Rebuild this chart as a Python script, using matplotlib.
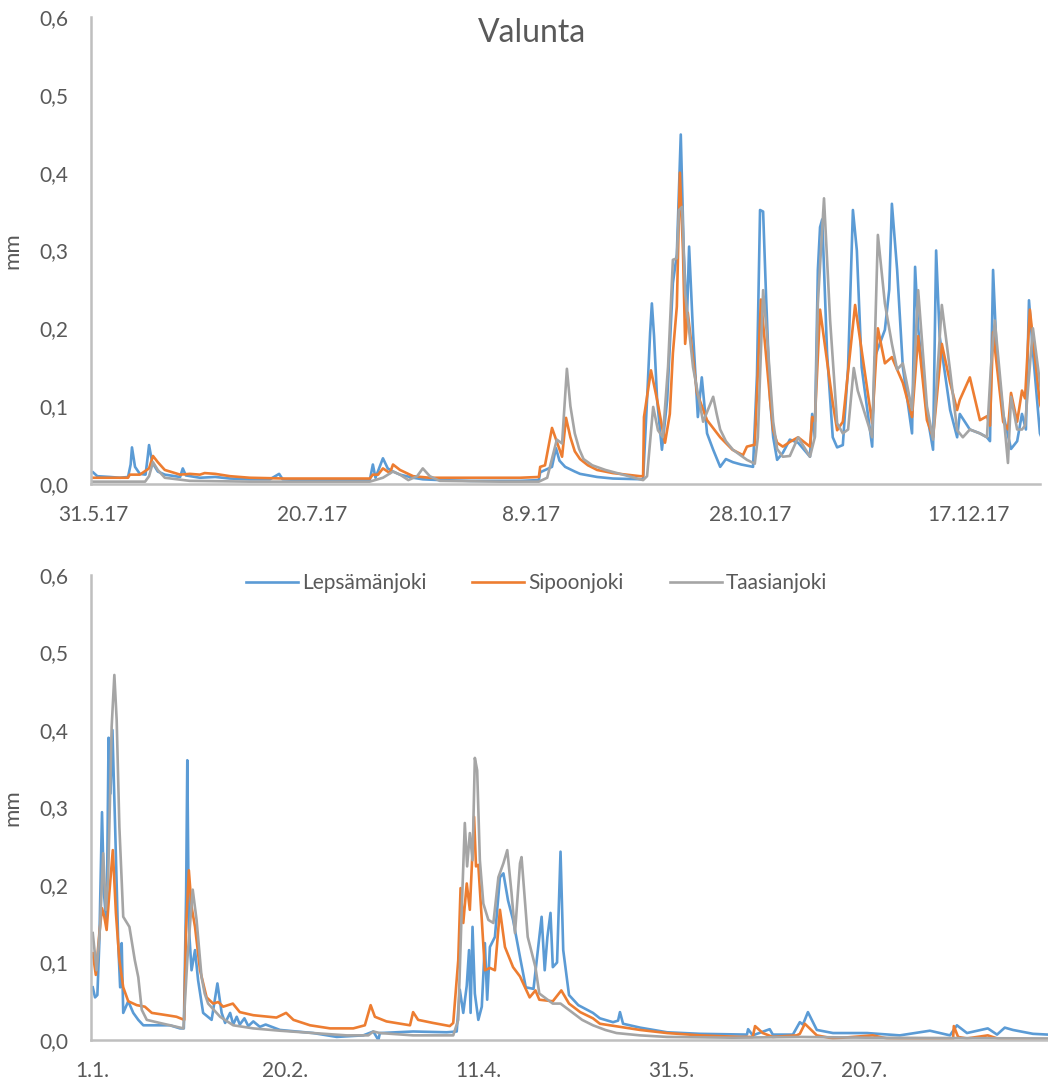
import matplotlib.pyplot as plt

# Valunta (mm), päivät jakson alusta: yläkuva 31.5.2017 alkaen, alakuva 1.1.2018 alkaen
series = ['Lepsämänjoki', 'Sipoonjoki', 'Taasianjoki']
colors = ['#5B9BD5', '#ED7D31', '#A5A5A5']

ticks17 = [0, 50, 100, 150, 200]
labels17 = ['31.5.17', '20.7.17', '8.9.17', '28.10.17', '17.12.17']
ticks18 = [0, 50, 100, 150, 200]
labels18 = ['1.1.', '20.2.', '11.4.', '31.5.', '20.7.']

# --- 2017 ---
lep17_day = [0, 1.0, 3.9, 6.2, 8.0, 8.6, 8.9, 9.6, 10.7, 12.0, 12.5, 12.8, 13.5, 14.8, 16.4, 19.9, 20.5, 21.2,
             24.4, 27.9, 31.3, 35.8, 40.4, 42.5, 43.3, 47.3, 54.1, 63.2, 63.9, 64.5, 66.2, 67.3, 68.5, 70.1,
             73.1, 75.3, 79.2, 86.1, 92.9, 97.5, 101.8, 102.1, 104.8, 105.7, 106.5, 107.8, 110.0, 111.2,
             115.1, 118.7, 124.9, 125.6, 126.5, 127.2, 127.6, 128.1, 128.8, 129.9, 131.1, 132.4, 133.3,
             134.2, 134.9, 135.6, 136.1, 137.0, 138.1, 139.0, 140.2, 141.6, 143.2, 144.5, 146.1, 148.0,
             150.7, 151.6, 152.3, 153.0, 153.7, 154.6, 155.3, 156.2, 157.5, 159.1, 161.0, 163.7, 164.2,
             164.8, 165.5, 166.0, 166.5, 167.6, 168.9, 169.9, 171.2, 172.4, 173.5, 174.4, 175.5, 177.9,
             178.5, 180.8, 181.8, 182.4, 183.6, 184.9, 187.0, 187.7, 188.4, 190.4, 191.8, 192.5, 193.3,
             195.7, 197.3, 197.9, 200.2, 202.5, 204.1, 204.8, 205.5, 206.3, 207.8, 209.6, 211.0, 212.1,
             213.0, 213.7, 214.6, 216.2, 216.9]
lep17_mm = [0.015, 0.010, 0.009, 0.008, 0.009, 0.025, 0.047, 0.022, 0.013, 0.012, 0.035, 0.050, 0.028, 0.016,
            0.012, 0.009, 0.020, 0.011, 0.008, 0.009, 0.007, 0.006, 0.006, 0.013, 0.006, 0.005, 0.005, 0.005,
            0.025, 0.008, 0.033, 0.020, 0.016, 0.012, 0.008, 0.006, 0.005, 0.004, 0.004, 0.004, 0.005, 0.015,
            0.022, 0.046, 0.030, 0.022, 0.016, 0.013, 0.009, 0.007, 0.006, 0.006, 0.108, 0.194, 0.232, 0.190,
            0.108, 0.044, 0.108, 0.258, 0.295, 0.449, 0.295, 0.210, 0.305, 0.194, 0.086, 0.137, 0.065, 0.044,
            0.022, 0.032, 0.028, 0.025, 0.022, 0.140, 0.352, 0.350, 0.237, 0.108, 0.060, 0.031, 0.040, 0.057,
            0.053, 0.035, 0.090, 0.060, 0.275, 0.330, 0.340, 0.168, 0.060, 0.047, 0.050, 0.150, 0.352, 0.300,
            0.150, 0.048, 0.163, 0.198, 0.250, 0.360, 0.275, 0.150, 0.065, 0.279, 0.200, 0.090, 0.044, 0.300,
            0.190, 0.095, 0.060, 0.090, 0.070, 0.065, 0.060, 0.055, 0.275, 0.170, 0.090, 0.045, 0.055, 0.090,
            0.070, 0.236, 0.170, 0.065, 0.055]

sip17_day = [0, 6.2, 8.0, 8.4, 10.7, 12.8, 13.7, 14.8, 16.4, 19.9, 22.1, 24.4, 25.5, 27.9, 31.3, 35.8, 43.8,
             54.1, 63.2, 63.9, 65.1, 66.2, 67.8, 68.5, 70.1, 73.1, 76.9, 86.1, 97.5, 101.8, 102.1, 103.2,
             104.8, 107.1, 108.0, 109.0, 110.0, 111.2, 113.0, 115.1, 118.7, 124.9, 125.6, 125.8, 127.4,
             128.8, 130.6, 131.7, 132.4, 133.3, 134.0, 134.7, 135.2, 135.8, 137.9, 140.2, 143.2, 146.0,
             148.4, 149.3, 150.7, 151.1, 152.5, 154.6, 155.3, 156.2, 157.5, 159.1, 161.0, 163.7, 164.2,
             164.8, 166.0, 168.9, 169.9, 171.2, 174.0, 177.9, 179.2, 180.8, 182.4, 183.6, 184.9, 187.0,
             188.4, 190.4, 191.8, 193.8, 195.7, 197.3, 197.9, 200.2, 202.5, 204.1, 204.8, 205.5, 207.8,
             208.9, 209.6, 211.0, 212.1, 212.8, 213.9, 216.2, 216.9]
sip17_mm = [0.008, 0.008, 0.008, 0.012, 0.012, 0.020, 0.036, 0.028, 0.018, 0.012, 0.013, 0.012, 0.014, 0.013,
            0.010, 0.008, 0.007, 0.007, 0.007, 0.012, 0.012, 0.020, 0.014, 0.025, 0.018, 0.010, 0.008, 0.008,
            0.008, 0.009, 0.022, 0.024, 0.072, 0.035, 0.085, 0.060, 0.042, 0.032, 0.024, 0.018, 0.014, 0.010,
            0.010, 0.086, 0.146, 0.108, 0.053, 0.090, 0.168, 0.228, 0.400, 0.300, 0.180, 0.220, 0.117, 0.082,
            0.060, 0.044, 0.037, 0.048, 0.050, 0.050, 0.237, 0.108, 0.069, 0.053, 0.048, 0.054, 0.060, 0.048,
            0.086, 0.080, 0.224, 0.104, 0.069, 0.080, 0.230, 0.078, 0.200, 0.155, 0.163, 0.147, 0.130, 0.086,
            0.190, 0.082, 0.060, 0.180, 0.130, 0.095, 0.108, 0.137, 0.082, 0.087, 0.075, 0.195, 0.080, 0.070,
            0.117, 0.080, 0.120, 0.110, 0.224, 0.103, 0.090]

taa17_day = [0, 11.9, 12.8, 13.7, 14.8, 16.4, 22.1, 35.8, 63.2, 66.2, 68.5, 70.1, 72.0, 74.0, 75.3, 76.9,
             79.2, 92.9, 101.8, 103.7, 105.9, 107.1, 108.2, 109.0, 110.0, 111.0, 112.0, 114.0, 117.0, 121.0,
             124.9, 125.6, 126.5, 127.9, 129.0, 130.1, 131.3, 132.4, 133.3, 133.8, 134.5, 135.2, 137.0,
             139.3, 141.6, 142.4, 143.2, 144.5, 146.1, 149.3, 151.1, 151.8, 153.0, 153.9, 155.3, 156.2,
             157.5, 159.1, 161.0, 163.7, 164.8, 165.5, 166.9, 168.3, 169.9, 171.2, 172.4, 173.7, 174.6,
             177.9, 179.2, 180.8, 182.4, 183.6, 184.9, 187.0, 188.4, 190.4, 191.8, 193.8, 195.7, 197.3,
             198.6, 200.2, 202.5, 204.1, 205.0, 205.9, 207.8, 208.9, 209.6, 211.0, 212.1, 212.8, 214.6,
             216.2, 216.9]
taa17_mm = [0.003, 0.003, 0.010, 0.028, 0.018, 0.008, 0.004, 0.003, 0.003, 0.008, 0.016, 0.012, 0.005, 0.010,
            0.020, 0.010, 0.004, 0.003, 0.003, 0.008, 0.057, 0.052, 0.148, 0.100, 0.065, 0.045, 0.032, 0.024,
            0.018, 0.012, 0.006, 0.005, 0.010, 0.099, 0.069, 0.060, 0.151, 0.288, 0.290, 0.352, 0.356, 0.245,
            0.150, 0.080, 0.112, 0.090, 0.070, 0.055, 0.044, 0.031, 0.026, 0.060, 0.249, 0.190, 0.080, 0.045,
            0.035, 0.036, 0.060, 0.035, 0.060, 0.232, 0.367, 0.210, 0.078, 0.065, 0.070, 0.149, 0.120, 0.060,
            0.320, 0.232, 0.180, 0.147, 0.155, 0.095, 0.249, 0.100, 0.057, 0.230, 0.145, 0.069, 0.060, 0.070,
            0.065, 0.060, 0.150, 0.210, 0.095, 0.027, 0.112, 0.070, 0.070, 0.075, 0.200, 0.130, 0.100]

# --- 2018 ---
lep18_day = [0.2, 0.8, 1.4, 1.9, 2.6, 3.1, 3.8, 4.3, 4.8, 5.3, 6.0, 6.8, 7.3, 7.7, 8.1, 9.4, 10.7, 12.0, 13.3,
             16.8, 20.2, 22.8, 23.8, 24.4, 24.7, 25.1, 25.8, 26.7, 27.5, 28.8, 31.0, 32.5, 33.6, 34.5, 35.8,
             36.6, 37.5, 38.3, 39.5, 40.5, 41.8, 43.5, 45.0, 48.7, 57.3, 63.4, 70.3, 72.9, 74.2, 74.6, 83.2,
             91.9, 94.5, 95.3, 96.2, 97.1, 97.7, 98.1, 98.6, 99.2, 100.1, 101.0, 101.8, 102.4, 103.1, 104.4,
             105.7, 106.6, 107.8, 109.1, 110.9, 112.4, 114.4, 116.5, 117.3, 118.0, 118.8, 119.4, 120.5, 121.4,
             122.1, 123.6, 126.0, 129.8, 131.6, 135.0, 136.3, 136.8, 137.6, 142.0, 149.0, 157.5, 169.7, 170.0,
             171.2, 175.6, 176.4, 181.6, 183.4, 184.2, 185.5, 187.8, 192.0, 200.8, 209.3, 217.1, 222.3, 224.1,
             226.7, 232.1, 234.5, 236.5, 238.6, 243.8, 247.7]
lep18_mm = [0.068, 0.055, 0.058, 0.125, 0.294, 0.190, 0.146, 0.390, 0.318, 0.400, 0.275, 0.125, 0.068, 0.125,
            0.035, 0.050, 0.035, 0.026, 0.019, 0.019, 0.019, 0.015, 0.015, 0.190, 0.361, 0.146, 0.090, 0.116,
            0.077, 0.035, 0.026, 0.073, 0.035, 0.022, 0.035, 0.020, 0.030, 0.020, 0.028, 0.018, 0.024, 0.017,
            0.020, 0.013, 0.009, 0.004, 0.006, 0.011, 0.000, 0.009, 0.011, 0.010, 0.011, 0.065, 0.035, 0.070,
            0.116, 0.035, 0.146, 0.060, 0.026, 0.043, 0.125, 0.052, 0.120, 0.133, 0.210, 0.215, 0.180, 0.155,
            0.107, 0.068, 0.066, 0.159, 0.090, 0.133, 0.164, 0.094, 0.100, 0.243, 0.116, 0.058, 0.045, 0.035,
            0.028, 0.023, 0.025, 0.036, 0.021, 0.016, 0.010, 0.008, 0.007, 0.014, 0.006, 0.014, 0.007, 0.007,
            0.023, 0.020, 0.036, 0.013, 0.009, 0.009, 0.006, 0.012, 0.006, 0.019, 0.009, 0.015, 0.007, 0.016,
            0.013, 0.008, 0.007]

sip18_day = [0.2, 1.0, 1.9, 2.6, 3.2, 3.8, 4.5, 5.4, 6.2, 7.1, 8.1, 9.4, 11.6, 13.7, 15.5, 19.4, 21.9, 23.9,
             24.4, 25.1, 25.8, 26.7, 28.0, 29.7, 31.4, 32.7, 34.0, 36.5, 38.3, 41.8, 47.8, 50.3, 52.2, 56.5,
             61.7, 67.7, 70.7, 72.2, 73.3, 76.3, 82.4, 83.2, 84.5, 88.4, 92.7, 93.6, 94.9, 95.5, 96.2, 97.1,
             97.9, 99.0, 99.5, 100.1, 101.0, 101.8, 103.1, 104.4, 105.7, 107.0, 109.1, 110.9, 113.4, 114.9,
             115.9, 119.4, 121.6, 123.6, 126.5, 129.8, 131.6, 136.8, 142.0, 149.0, 157.5, 167.9, 171.2, 171.8,
             173.8, 176.4, 182.6, 183.4, 184.7, 187.8, 192.0, 202.3, 206.0, 217.9, 223.1, 223.3, 224.4, 226.7,
             232.1, 235.2, 247.7]
sip18_mm = [0.112, 0.084, 0.137, 0.170, 0.159, 0.142, 0.190, 0.245, 0.164, 0.103, 0.068, 0.050, 0.045, 0.043,
            0.035, 0.032, 0.030, 0.026, 0.146, 0.219, 0.172, 0.146, 0.090, 0.055, 0.047, 0.049, 0.043, 0.047,
            0.036, 0.032, 0.029, 0.035, 0.026, 0.019, 0.015, 0.015, 0.019, 0.045, 0.030, 0.024, 0.019, 0.036,
            0.026, 0.022, 0.018, 0.022, 0.103, 0.196, 0.151, 0.202, 0.168, 0.288, 0.224, 0.226, 0.155, 0.090,
            0.093, 0.090, 0.168, 0.120, 0.094, 0.082, 0.055, 0.064, 0.052, 0.050, 0.064, 0.047, 0.036, 0.028,
            0.021, 0.017, 0.013, 0.009, 0.006, 0.004, 0.004, 0.018, 0.009, 0.004, 0.006, 0.008, 0.021, 0.006,
            0.002, 0.006, 0.002, 0.001, 0.001, 0.018, 0.004, 0.002, 0.006, 0.001, 0.001]

taa18_day = [0.2, 1.2, 2.1, 2.9, 3.6, 4.2, 5.1, 5.8, 6.4, 7.1, 8.1, 9.7, 11.1, 12.0, 12.9, 14.2, 17.6, 21.1,
             23.7, 24.7, 26.1, 27.1, 28.4, 29.2, 30.1, 33.2, 36.6, 41.8, 48.7, 57.3, 66.0, 71.6, 72.9, 74.6,
             83.2, 93.6, 94.9, 95.8, 96.6, 97.2, 97.9, 98.6, 99.2, 99.8, 100.5, 101.4, 102.7, 104.0, 105.3,
             106.6, 107.6, 108.7, 109.6, 110.9, 111.3, 112.9, 114.9, 115.9, 119.4, 121.4, 124.6, 127.0, 129.8,
             133.0, 135.9, 142.0, 149.0, 166.1, 183.4, 200.8, 247.7]
taa18_mm = [0.138, 0.090, 0.146, 0.241, 0.168, 0.210, 0.404, 0.471, 0.413, 0.275, 0.159, 0.146, 0.103, 0.081,
            0.039, 0.026, 0.022, 0.018, 0.015, 0.103, 0.194, 0.155, 0.081, 0.060, 0.047, 0.030, 0.019, 0.015,
            0.012, 0.009, 0.006, 0.006, 0.011, 0.009, 0.006, 0.006, 0.026, 0.168, 0.280, 0.224, 0.267, 0.232,
            0.364, 0.348, 0.232, 0.176, 0.155, 0.151, 0.210, 0.228, 0.245, 0.190, 0.138, 0.228, 0.236, 0.133,
            0.094, 0.060, 0.047, 0.047, 0.035, 0.026, 0.019, 0.013, 0.009, 0.006, 0.004, 0.003, 0.004, 0.003,
            0.002]

plt.rcParams['font.family'] = ['Lato', 'DejaVu Sans']
txt = '#595959'
axcol = '#BFBFBF'

fig = plt.figure(figsize=(10.48, 10.82), dpi=100)
ax1 = fig.add_axes([0.0868, 0.5527, 0.9055, 0.4316])
ax2 = fig.add_axes([0.0868, 0.0388, 0.9132, 0.4298])

ax1.plot(lep17_day, lep17_mm, color=colors[0], lw=1.9, label=series[0])
ax1.plot(sip17_day, sip17_mm, color=colors[1], lw=1.9, label=series[1])
ax1.plot(taa17_day, taa17_mm, color=colors[2], lw=1.9, label=series[2])
ax1.set_xlim(-0.46, 216.2)
ax1.set_xticks(ticks17)
ax1.set_xticklabels(labels17)

ax2.plot(lep18_day, lep18_mm, color=colors[0], lw=1.9, label=series[0])
ax2.plot(sip18_day, sip18_mm, color=colors[1], lw=1.9, label=series[1])
ax2.plot(taa18_day, taa18_mm, color=colors[2], lw=1.9, label=series[2])
ax2.set_xlim(-0.26, 247.7)
ax2.set_xticks(ticks18)
ax2.set_xticklabels(labels18)

yt = [0, 0.1, 0.2, 0.3, 0.4, 0.5, 0.6]
for ax in (ax1, ax2):
    ax.set_ylim(0, 0.6)
    ax.set_yticks(yt)
    ax.set_yticklabels([f'{v:.1f}'.replace('.', ',') for v in yt])
    for s in ('top', 'right'):
        ax.spines[s].set_visible(False)
    for s in ('left', 'bottom'):
        ax.spines[s].set_color(axcol)
        ax.spines[s].set_linewidth(1.8)
    ax.tick_params(axis='both', length=0, labelsize=15, colors=txt)
    ax.tick_params(axis='y', pad=16)
    ax.tick_params(axis='x', pad=15)
    ax.set_ylabel('mm', fontsize=16, color=txt)
    ax.patch.set_alpha(0)

ax1.yaxis.set_label_coords(-0.0725, 0.5)
ax2.yaxis.set_label_coords(-0.0721, 0.5)

fig.text(0.508, 1 - 33 / 1082, 'Valunta', ha='center', va='center', fontsize=23, color=txt)

leg = ax2.legend(loc='center', bbox_to_anchor=(0.4655, 0.983), ncol=3, frameon=False,
                 fontsize=15, handlelength=2.5, handletextpad=0.2, columnspacing=2.2)
for t in leg.get_texts():
    t.set_color(txt)

fig.savefig('out.png', dpi=100)
